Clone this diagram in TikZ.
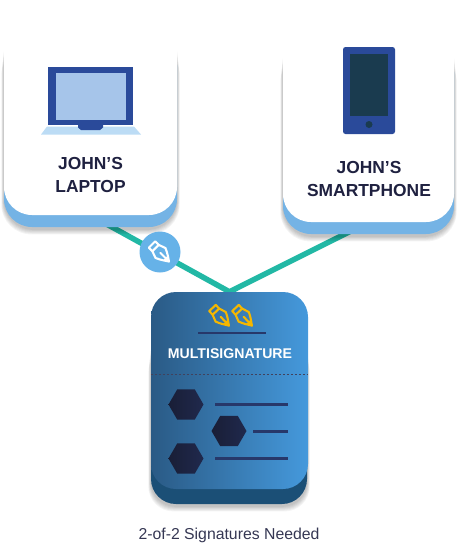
\documentclass[tikz,border=0pt]{standalone}
\usepackage{fontspec}
\setmainfont{Liberation Sans}
\usetikzlibrary{shapes.geometric,backgrounds}
\definecolor{inkdark}{HTML}{1F2140}
\definecolor{cardblue}{HTML}{74B3E5}
\definecolor{wirecol}{HTML}{22B8A5}
\definecolor{lapframe}{HTML}{2A4A9A}
\definecolor{lapscreen}{HTML}{A6C5EA}
\definecolor{lapbase}{HTML}{BCDCF5}
\definecolor{phonescreen}{HTML}{1A3B4F}
\definecolor{msleft}{HTML}{2A5A85}
\definecolor{msright}{HTML}{4599DC}
\definecolor{msbase}{HTML}{1B4F76}
\definecolor{rulecol}{HTML}{27386A}
\definecolor{hexl}{HTML}{191E36}
\definecolor{hexr}{HTML}{20294D}
\definecolor{nibgold}{HTML}{F5B700}
\definecolor{badgeblue}{HTML}{66B2E8}
\newcommand{\softshadow}[5]{%
  \foreach \i in {1,...,6}{%
    \fill[black,opacity=.045,rounded corners=#5pt]
      ({#1-\i*.45},{#2-6+4*\i}) rectangle ({#3+\i*.45},{#4+\i*.9});
  }}
\tikzset{
  x=1pt,y=-1pt,
  cardbox/.style={rectangle,draw=none,fill=white,minimum width=173pt,rounded corners=28pt,inner sep=0pt},
  cardbase/.style={rectangle,draw=none,fill=cardblue,minimum width=173pt,rounded corners=28pt,inner sep=0pt},
  cardtext/.style={font=\bfseries\fontsize{17.4}{23}\selectfont,text=inkdark,align=center,inner sep=0pt},
  wire/.style={draw=wirecol,line width=5.5pt,line join=miter},
  hexa/.style={regular polygon,regular polygon sides=6,minimum size=35pt,inner sep=0pt,left color=hexl,right color=hexr,draw=none},
  listrule/.style={draw=rulecol,line width=2.2pt},
  nibline/.style={line width=2.1pt,line join=round,line cap=round},
  pics/nib/.style={code={
    \draw[nibline,draw=#1] (0,-4.5) -- (5,-4.5) -- (12,-7) .. controls (17,-5) and (21,-2) .. (24,0)
      .. controls (21,2) and (17,5) .. (12,7) -- (5,4.5) -- (0,4.5) -- cycle;
    \draw[nibline,draw=#1] (5,-4.5) -- (5,4.5);
    \draw[nibline,draw=#1] (12,0) -- (24,0);
    \fill[#1] (25,0) -- (19,-2.5) -- (19,2.5) -- cycle;
  }}
}
\begin{document}
\begin{tikzpicture}
\useasboundingbox (0,0) rectangle (459,544);
% laptop card
\softshadow{4}{28}{177}{229}{30}
\node[cardbase,minimum height=190pt] (laptopbase) at (90.5,132) {};
\node[cardbox,minimum height=205pt] (laptop) at (90.5,112.5) {};
% phone card
\softshadow{283}{35}{454}{236}{30}
\node[cardbase,minimum width=171pt,minimum height=190pt] (phonebase) at (368.5,139) {};
\node[cardbox,minimum width=171pt,minimum height=212pt] (phone) at (368.5,116) {};
% laptop icon
\node[rectangle,fill=lapframe,minimum width=85pt,minimum height=58pt,inner sep=0pt] (lapframe) at (90.5,96) {};
\node[rectangle,fill=lapscreen,minimum width=70pt,minimum height=47pt,inner sep=0pt] (lapscr) at (91,96.5) {};
\fill[lapbase] (47,126.5) -- (134,126.5) -- (141,134.5) -- (41,134.5) -- cycle;
\fill[lapframe] (78,125) -- (103,125) -- (103,127.5) -- (100,130) -- (81,130) -- (78,127.5) -- cycle;
\node[cardtext] (laplabel) at (90.5,175.5) {JOHN’S\\LAPTOP};
% phone icon
\node[rectangle,rounded corners=2.5pt,fill=lapframe,minimum width=52pt,minimum height=87pt,inner sep=0pt] (phonebody) at (369,90.5) {};
\node[rectangle,fill=phonescreen,minimum width=38pt,minimum height=62pt,inner sep=0pt] (phonescr) at (369,85) {};
\node[circle,fill=phonescreen,minimum size=7pt,inner sep=0pt] (phonebtn) at (369,124.5) {};
\node[cardtext] (phonelabel) at (369,179) {JOHN’S\\SMARTPHONE};
% multisignature card
\softshadow{151}{330}{307}{506}{25}
\node[rectangle,fill=msbase,minimum width=156pt,minimum height=150pt,rounded corners=25pt,inner sep=0pt] (msbasecard) at (229,429) {};
\node[rectangle,left color=msleft,right color=msright,minimum width=157pt,minimum height=197pt,rounded corners=25pt,inner sep=0pt] (msig) at (229.5,390.5) {};
\draw[listrule] (198,333) -- (266,333);
\pic[rotate=-47] at (212.5,308) {nib=nibgold};
\pic[rotate=-47] at (235.5,308) {nib=nibgold};
\node[font=\bfseries\fontsize{14.1}{16}\selectfont,text=white,inner sep=0pt] (mslabel) at (230,353.5) {MULTISIGNATURE};
\draw[draw=inkdark!85,line width=.5pt,dash pattern=on 2pt off 2pt] (msig.west |- 0,374) -- (msig.east |- 0,374);
\node[hexa] (hexa1) at (186,404.5) {};
\node[hexa] (hexb) at (229,431) {};
\node[hexa] (hexc) at (186,458.5) {};
\draw[listrule] (215,404.5) -- (288,404.5);
\draw[listrule] (253,431.5) -- (288,431.5);
\draw[listrule] (215,458.5) -- (288,458.5);
% connector
\begin{scope}[on background layer]
\draw[wire] (laptop.south) -- (msig.north) -- (phone.south);
\end{scope}
% badge
\node[circle,fill=badgeblue,minimum size=41pt,inner sep=0pt] (badge) at (160,252) {};
\pic[rotate=-45] at (152,244.5) {nib=white};
% caption
\node[font=\fontsize{15.8}{18}\selectfont,text=inkdark!90,inner sep=0pt] (caption) at (229,535) {2-of-2 Signatures Needed};
\end{tikzpicture}
\end{document}
